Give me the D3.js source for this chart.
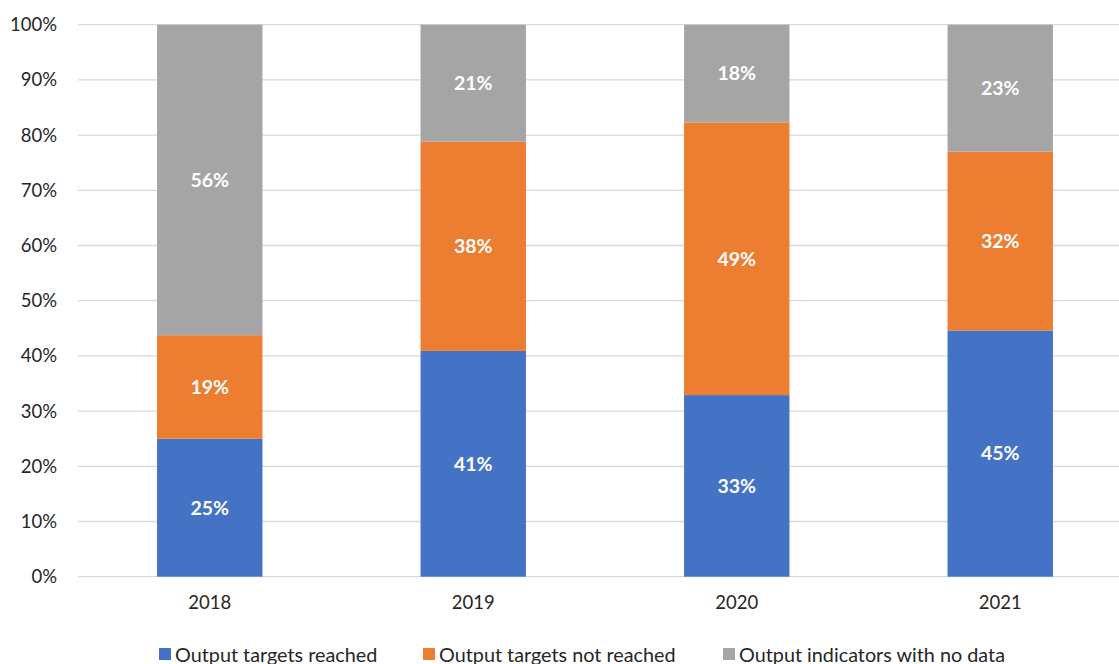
<!DOCTYPE html>
<html>
<head>
<meta charset="utf-8">
<script src="https://cdn.jsdelivr.net/npm/d3@7"></script>
<style>
  html, body { margin: 0; padding: 0; background: #fff; }
  svg { display: block; font-family: Lato, "Open Sans", sans-serif; }
</style>
</head>
<body>
<svg id="chart" width="1119" height="664"></svg>
<script>
// Share of output indicators by status, per year (percent)
const years = ["2018", "2019", "2020", "2021"];
const reached = [25.0, 40.9, 32.9, 44.6];
const notReached = [18.75, 37.9, 49.4, 32.4];
const noData = [56.25, 21.2, 17.7, 23.0];
const seriesNames = ["Output targets reached", "Output targets not reached", "Output indicators with no data"];
const seriesColors = ["#4472C4", "#ED7D31", "#A5A5A5"];
const yTicks = [0, 10, 20, 30, 40, 50, 60, 70, 80, 90, 100];

const svg = d3.select("#chart");
const margin = { left: 78, top: 24.7, bottom: 576.7, right: 1132 };

const rows = years.map((y, i) => ({ year: y, s0: reached[i], s1: notReached[i], s2: noData[i] }));
const keys = ["s0", "s1", "s2"];
const stacked = d3.stack().keys(keys)(rows);

const x = d3.scaleBand().domain(years).range([margin.left, margin.right])
  .paddingInner(0.6).paddingOuter(0.3);
const y = d3.scaleLinear().domain([0, 100]).range([margin.bottom, margin.top]);

// Gridlines
svg.append("g").selectAll("line").data(yTicks).join("line")
  .attr("x1", margin.left).attr("x2", margin.right)
  .attr("y1", d => y(d)).attr("y2", d => y(d))
  .attr("stroke", "#d9d9d9").attr("stroke-width", 1.3);

// Y axis labels
const yAxis = d3.axisLeft(y).tickValues(yTicks).tickFormat(d => d + "%").tickSize(0).tickPadding(0);
const yg = svg.append("g").attr("transform", `translate(57,0)`).call(yAxis);
yg.select(".domain").remove();
yg.selectAll("text").attr("font-size", 18.5).attr("fill", "#262626")
  .attr("font-family", "Lato, 'Open Sans', sans-serif");

// X axis labels
const xAxis = d3.axisBottom(x).tickSize(0).tickPadding(0);
const xg = svg.append("g").attr("transform", `translate(0,${margin.bottom + 19})`).call(xAxis);
xg.select(".domain").remove();
xg.selectAll("text").attr("font-size", 18.5).attr("fill", "#262626")
  .attr("font-family", "Lato, 'Open Sans', sans-serif");

// Stacked bars
const layers = svg.append("g").selectAll("g").data(stacked).join("g")
  .attr("fill", (d, i) => seriesColors[i]);
layers.selectAll("rect").data(d => d).join("rect")
  .attr("x", d => x(d.data.year))
  .attr("width", x.bandwidth())
  .attr("y", d => y(d[1]))
  .attr("height", d => y(d[0]) - y(d[1]));

// Value labels
layers.selectAll("text").data(d => d).join("text")
  .attr("x", d => x(d.data.year) + x.bandwidth() / 2)
  .attr("y", d => (y(d[0]) + y(d[1])) / 2)
  .attr("dy", "0.35em")
  .attr("text-anchor", "middle")
  .attr("fill", "#fff")
  .attr("font-size", 19.5)
  .attr("font-weight", "bold")
  .text(d => Math.round(d[1] - d[0]) + "%");

// Legend
const legendX = [159, 423, 723];
const legend = svg.append("g").selectAll("g").data(seriesNames).join("g")
  .attr("transform", (d, i) => `translate(${legendX[i]},648)`);
legend.append("rect").attr("width", 12).attr("height", 12)
  .attr("fill", (d, i) => seriesColors[i]);
legend.append("text").attr("x", 16).attr("y", 13.5)
  .attr("font-size", 19.8).attr("fill", "#262626")
  .text(d => d);
</script>
</body>
</html>
